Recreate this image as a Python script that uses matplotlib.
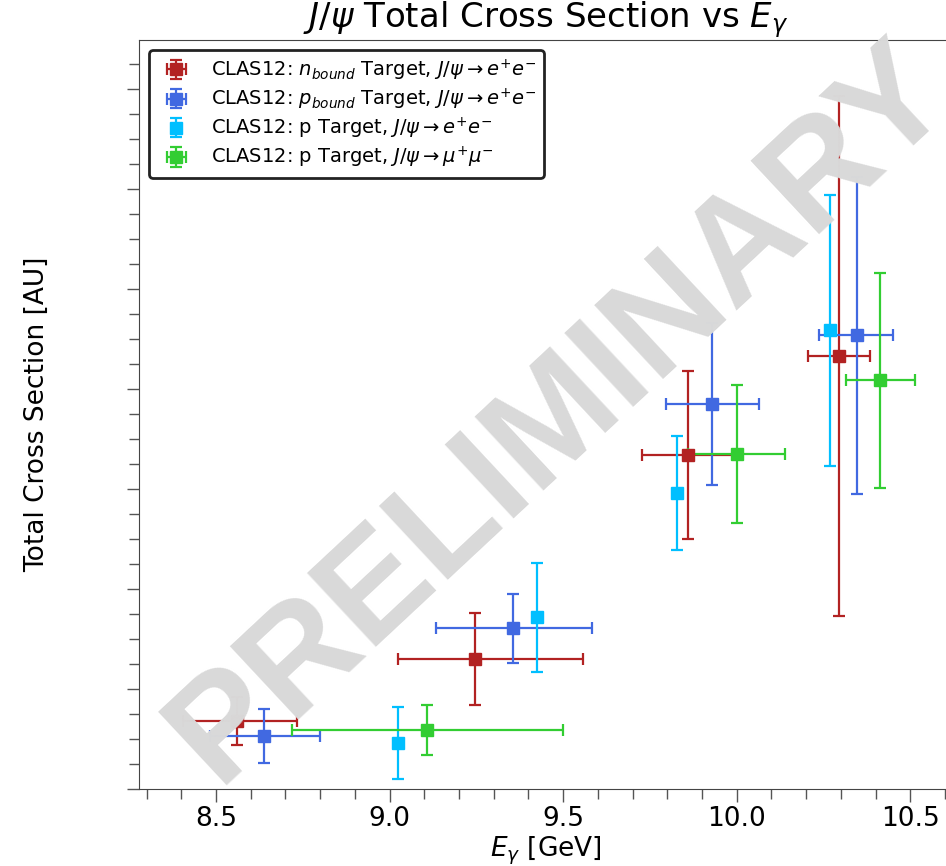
"""J/psi total cross section vs photon energy, CLAS12 preliminary."""

import matplotlib
matplotlib.use("Agg")
import matplotlib.pyplot as plt
from matplotlib.ticker import MultipleLocator

# n_bound target, J/psi -> e+e-
n_e = [8.560, 9.246, 9.859, 10.295]
n_sig = [0.682, 1.300, 3.340, 4.329]
n_yerr = [0.24, 0.46, 0.84, 2.60]
n_xlo = [0.155, 0.221, 0.132, 0.091]
n_xhi = [0.172, 0.310, 0.141, 0.089]

# p_bound target, J/psi -> e+e-
pb_e = [8.638, 9.356, 9.929, 10.346]
pb_sig = [0.533, 1.607, 3.850, 4.536]
pb_yerr = [0.27, 0.344, 0.81, 1.588]
pb_xlo = [0.155, 0.222, 0.134, 0.108]
pb_xhi = [0.162, 0.226, 0.134, 0.105]

# free proton target, J/psi -> e+e-
p_e = [9.025, 9.424, 9.827, 10.269]
p_sig = [0.463, 1.717, 2.963, 4.586]
p_yerr = [0.36, 0.547, 0.568, 1.355]

# free proton target, J/psi -> mu+mu-
pm_e = [9.109, 10.000, 10.414]
pm_sig = [0.590, 3.353, 4.086]
pm_yerr = [0.25, 0.692, 1.078]
pm_xerr = [0.39, 0.14, 0.10]

W, H = 946, 866
fig = plt.figure(figsize=(W / 100, H / 100), dpi=100)
ax = fig.add_axes([139.3 / W, 1 - 789 / H, (952 - 139.3) / W, (789 - 40) / H])

style = dict(fmt="s", ms=8, capsize=4, elinewidth=1.6, capthick=1.6)
ax.errorbar(n_e, n_sig, yerr=n_yerr, xerr=[n_xlo, n_xhi], color="#b22222",
            label=r"CLAS12: $n_{bound}$ Target, $J/\psi \rightarrow e^{+}e^{-}$", **style)
ax.errorbar(pb_e, pb_sig, yerr=pb_yerr, xerr=[pb_xlo, pb_xhi], color="#4169e1",
            label=r"CLAS12: $p_{bound}$ Target, $J/\psi \rightarrow e^{+}e^{-}$", **style)
ax.errorbar(p_e, p_sig, yerr=p_yerr, color="#00bfff",
            label=r"CLAS12: p Target, $J/\psi \rightarrow e^{+}e^{-}$", **style)
ax.errorbar(pm_e, pm_sig, yerr=pm_yerr, xerr=pm_xerr, color="#32cd32",
            label=r"CLAS12: p Target, $J/\psi \rightarrow \mu^{+}\mu^{-}$", **style)

ax.set_xlim(8.279, 10.62)
ax.set_ylim(0, 7.49)
ax.xaxis.set_major_locator(MultipleLocator(0.5))
ax.xaxis.set_minor_locator(MultipleLocator(0.1))
ax.yaxis.set_major_locator(MultipleLocator(1))
ax.yaxis.set_minor_locator(MultipleLocator(0.25))
ax.set_yticklabels([])
ax.tick_params(which="both", direction="out", color="#555555", width=1.0)
ax.tick_params(which="major", length=9, labelsize=19)
ax.tick_params(which="minor", length=7)
for side in ["left", "bottom", "top", "right"]:
    ax.spines[side].set_color("#444444")

ax.set_xlabel(r"$E_{\gamma}$ [GeV]", fontsize=19, labelpad=2)
ax.set_ylabel("Total Cross Section [AU]", fontsize=19, labelpad=52)
ax.set_title(r"$J/\psi$ Total Cross Section vs $E_{\gamma}$", fontsize=24.5, pad=-2)

leg = ax.legend(loc="upper left", fontsize=14, labelspacing=0.2, framealpha=1,
                edgecolor="#222222", fancybox=True)
leg.get_frame().set_linewidth(2)

# watermark sits on top of the data, partly outside the figure like the original
fig.text(560 / W, 1 - 414 / H, "PRELIMINARY", fontsize=106, fontweight="bold",
         family="Liberation Sans", color="#d9d9d9", rotation=43,
         ha="center", va="center", rotation_mode="anchor", zorder=10)

fig.savefig("out.png", dpi=100)
